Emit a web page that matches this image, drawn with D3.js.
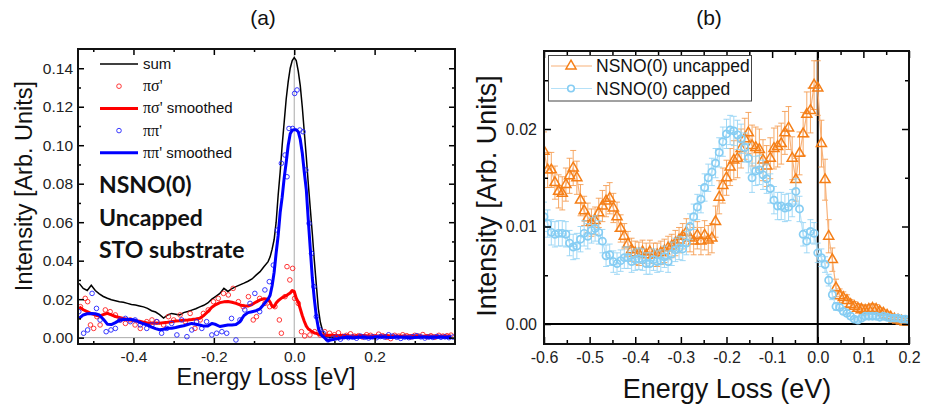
<!DOCTYPE html>
<html>
<head>
<meta charset="utf-8">
<script src="https://cdn.jsdelivr.net/npm/d3@7"></script>
<style>
  body { margin: 0; background: #fff; }
  svg { display: block; }
</style>
</head>
<body>
<div id="chart"></div>
<script>
// ---------- panel (a) : smoothed curves ----------
const aLineE = [-0.535,-0.525,-0.515,-0.505,-0.495,-0.485,-0.475,-0.465,-0.455,-0.445,
  -0.435,-0.425,-0.415,-0.405,-0.395,-0.385,-0.375,-0.365,-0.355,-0.345,
  -0.335,-0.325,-0.315,-0.305,-0.295,-0.285,-0.275,-0.265,-0.255,-0.245,
  -0.235,-0.225,-0.215,-0.205,-0.195,-0.185,-0.175,-0.165,-0.155,-0.145,
  -0.135,-0.125,-0.115,-0.105,-0.095,-0.085,-0.075,-0.065,
  -0.060,-0.055,-0.050,-0.045,-0.040,-0.035,-0.030,-0.025,-0.020,-0.015,-0.010,-0.005,
  0.000,0.005,0.010,0.015,0.020,0.025,0.030,0.035,0.040,0.045,0.050,0.055,0.060,0.065,
  0.070,0.075,0.080,0.085,0.090,
  0.10,0.11,0.12,0.13,0.14,0.15,0.16,0.17,0.18,0.19,0.20,0.21,0.22,0.23,0.24,
  0.25,0.26,0.27,0.28,0.29,0.30,0.31,0.32,0.33,0.34,0.35,0.36,0.37,0.38,0.39];

const aSum = [0.0282,0.0256,0.0245,0.0272,0.0245,0.0228,0.0214,0.0205,0.0197,0.0192,
  0.0187,0.0184,0.0178,0.0172,0.0170,0.0165,0.0160,0.0152,0.0140,0.0133,
  0.0120,0.0102,0.0118,0.0126,0.0122,0.0118,0.0130,0.0136,0.0143,0.0150,
  0.0160,0.0168,0.0180,0.0200,0.0215,0.0230,0.0256,0.0240,0.0255,0.0265,
  0.0274,0.0283,0.0293,0.0305,0.0325,0.0343,0.0370,0.0395,
  0.0420,0.0460,0.0510,0.0600,0.0740,0.0860,0.1000,0.1120,0.1240,0.1330,0.1400,0.1440,
  0.1455,0.1440,0.1385,0.1310,0.1200,0.1070,0.0940,0.0800,0.0670,0.0540,0.0400,0.0275,0.0150,0.0080,
  0.0040,0.0015,0.0005,0.0002,0.0002,
  0.0003,0.0008,0.0006,0.0004,0.0006,0.0005,0.0004,0.0003,0.0006,0.0005,0.0004,0.0003,0.0005,0.0008,0.0006,
  0.0004,0.0003,0.0005,0.0004,0.0003,0.0005,0.0006,0.0004,0.0003,0.0004,0.0005,0.0004,0.0003,0.0004,0.0004];

const aSigSmooth = [0.0160,0.0145,0.0135,0.0125,0.0118,0.0112,0.0120,0.0126,0.0118,0.0110,
  0.0105,0.0100,0.0095,0.0091,0.0088,0.0085,0.0080,0.0076,0.0075,0.0076,
  0.0075,0.0078,0.0080,0.0083,0.0086,0.0088,0.0091,0.0092,0.0094,0.0097,
  0.0101,0.0115,0.0135,0.0158,0.0172,0.0182,0.0186,0.0188,0.0184,0.0178,
  0.0170,0.0165,0.0164,0.0172,0.0185,0.0196,0.0202,0.0200,
  0.0185,0.0162,0.0160,0.0180,0.0192,0.0200,0.0208,0.0213,0.0218,0.0225,0.0232,0.0245,
  0.0240,0.0205,0.0185,0.0150,0.0115,0.0085,0.0060,0.0045,0.0038,0.0030,0.0025,0.0022,0.0018,0.0015,
  0.0014,0.0013,0.0012,0.0012,0.0012,
  0.0011,0.0010,0.0012,0.0011,0.0009,0.0008,0.0010,0.0011,0.0010,0.0009,0.0008,0.0009,0.0010,0.0011,0.0009,
  0.0008,0.0007,0.0008,0.0009,0.0010,0.0009,0.0008,0.0007,0.0008,0.0009,0.0008,0.0007,0.0008,0.0009,0.0008];

const aPiSmooth = [0.0101,0.0118,0.0124,0.0126,0.0124,0.0118,0.0096,0.0070,0.0068,0.0078,
  0.0090,0.0094,0.0096,0.0094,0.0090,0.0080,0.0072,0.0066,0.0055,0.0047,
  0.0041,0.0044,0.0049,0.0049,0.0053,0.0058,0.0062,0.0068,0.0074,0.0070,
  0.0066,0.0060,0.0060,0.0074,0.0068,0.0058,0.0062,0.0066,0.0066,0.0068,
  0.0083,0.0115,0.0130,0.0135,0.0140,0.0150,0.0175,0.0200,
  0.0220,0.0270,0.0340,0.0440,0.0530,0.0650,0.0730,0.0830,0.0910,0.1000,0.1060,0.1078,
  0.1080,0.1080,0.1070,0.1030,0.0960,0.0860,0.0770,0.0610,0.0460,0.0310,0.0200,0.0110,0.0050,0.0022,
  0.0008,0.0000,-0.0010,-0.0015,-0.0012,
  -0.0008,-0.0004,0.0000,0.0002,0.0001,0.0000,0.0002,0.0003,0.0001,0.0000,0.0002,0.0003,0.0004,0.0002,0.0001,
  0.0002,0.0003,0.0002,0.0001,0.0000,0.0001,0.0002,0.0003,0.0002,0.0001,0.0002,0.0003,0.0002,0.0001,0.0002];

// ---------- panel (a) : raw points ----------
const aSigE = [-0.532,-0.520,-0.514,-0.507,-0.499,-0.491,-0.483,-0.470,-0.458,-0.445,
  -0.433,-0.420,-0.408,-0.396,-0.383,-0.367,-0.354,-0.342,-0.325,-0.313,
  -0.300,-0.284,-0.271,-0.259,-0.247,-0.234,-0.226,-0.214,-0.201,-0.189,
  -0.176,-0.164,-0.152,-0.139,-0.127,-0.114,-0.102,-0.094,-0.086,-0.073,
  -0.061,-0.048,-0.037,-0.032,-0.023,-0.018,-0.011,-0.004,0.001,0.010,
  0.018,0.026,0.039,0.051,0.064,0.076,0.088,
  0.10,0.11,0.12,0.13,0.14,0.15,0.16,0.17,0.18,0.19,0.20,0.21,0.22,0.23,0.24,
  0.25,0.26,0.27,0.28,0.29,0.30,0.31,0.32,0.33,0.34,0.35,0.36,0.37,0.38,0.39];
const aSigV = [0.0161,0.0204,0.0187,0.0066,0.0048,0.0109,0.0066,0.0144,0.0135,0.0118,
  0.0092,0.0074,0.0092,0.0066,0.0048,0.0083,0.0092,0.0083,0.0066,0.0109,
  0.0092,0.0118,0.0083,0.0126,0.0048,0.0092,0.0126,0.0144,0.0187,0.0204,
  0.0230,0.0222,0.0256,0.0187,0.0161,0.0213,0.0092,0.0109,0.0204,0.0178,
  0.0161,0.0161,0.0092,0.0023,0.0213,0.0369,0.0300,0.0360,0.0204,0.0178,
  0.0031,0.0009,0.0014,0.0031,0.0014,0.0031,0.0023,
  0.0015,0.0025,0.0005,0.0012,0.0020,0.0008,0.0010,0.0003,0.0015,0.0012,0.0005,0.0018,0.0010,0.0002,-0.0005,
  0.0012,0.0008,0.0015,0.0010,0.0003,0.0012,0.0008,0.0016,0.0005,0.0010,0.0002,0.0012,0.0008,0.0010,0.0013];

const aPiE = [-0.536,-0.524,-0.514,-0.503,-0.492,-0.483,-0.468,-0.456,-0.445,-0.433,
  -0.420,-0.408,-0.396,-0.383,-0.367,-0.354,-0.342,-0.330,-0.317,-0.305,
  -0.292,-0.280,-0.267,-0.255,-0.243,-0.230,-0.218,-0.205,-0.193,-0.180,
  -0.168,-0.156,-0.145,-0.135,-0.123,-0.110,-0.098,-0.086,-0.073,-0.062,
  -0.052,-0.042,-0.032,-0.023,-0.018,-0.013,-0.004,0.001,0.007,0.014,
  0.022,0.029,0.037,0.043,0.049,0.055,0.064,0.072,0.084,0.097,
  0.105,0.115,0.125,0.135,0.145,0.155,0.165,0.175,0.185,0.195,0.205,0.215,0.225,0.235,0.245,
  0.255,0.265,0.275,0.285,0.295,0.305,0.315,0.325,0.335,0.345,0.355,0.365,0.375,0.385,0.395];
const aPiV = [0.0135,0.0023,0.0040,0.0230,0.0152,0.0092,0.0031,0.0040,0.0048,0.0092,
  0.0100,0.0083,0.0092,0.0066,0.0048,0.0066,0.0083,0.0023,0.0048,0.0074,
  0.0014,0.0092,0.0005,0.0040,0.0083,0.0048,0.0083,0.0014,0.0023,0.0031,
  0.0023,0.0100,-0.0012,0.0092,0.0144,0.0178,0.0230,0.0135,0.0248,0.0291,
  0.0377,0.0559,0.0906,0.0949,0.0836,0.1087,0.1087,0.1269,0.1287,0.1079,
  0.1070,0.0871,0.0594,0.0438,0.0265,0.0109,0.0040,0.0023,-0.0012,-0.0003,
  0.0002,-0.0008,0.0005,0.0000,0.0003,-0.0003,0.0008,0.0002,-0.0002,0.0004,0.0000,0.0006,0.0003,0.0015,0.0008,
  0.0002,-0.0004,0.0003,0.0000,0.0005,0.0010,0.0004,-0.0002,0.0003,0.0001,0.0006,0.0002,0.0004,0.0000,0.0003];

// ---------- panel (b) ----------
const bEnergy = [-0.600,-0.592,-0.584,-0.576,-0.568,-0.560,-0.552,-0.544,-0.536,-0.528,
  -0.520,-0.512,-0.504,-0.496,-0.488,-0.480,-0.472,-0.464,-0.456,-0.448,
  -0.440,-0.432,-0.424,-0.416,-0.408,-0.400,-0.392,-0.384,-0.376,-0.368,
  -0.360,-0.352,-0.344,-0.336,-0.328,-0.320,-0.312,-0.304,-0.296,-0.288,
  -0.280,-0.272,-0.264,-0.256,-0.248,-0.240,-0.232,-0.224,-0.216,-0.208,
  -0.200,-0.192,-0.184,-0.176,-0.168,-0.160,-0.152,-0.144,-0.136,-0.128,
  -0.120,-0.112,-0.104,-0.096,-0.088,-0.080,-0.072,-0.064,-0.056,-0.048,
  -0.040,-0.032,-0.024,-0.016,-0.008,0.000,0.008,0.016,0.024,0.032,
  0.040,0.048,0.056,0.064,0.072,0.080,0.088,0.096,0.104,0.112,
  0.120,0.128,0.136,0.144,0.152,0.160,0.168,0.176,0.184,0.192,0.200];

const bUncapped = [0.0177,0.0158,0.0158,0.0145,0.0136,0.0134,0.0143,0.0152,0.0160,0.0150,
  0.0127,0.0116,0.0109,0.0104,0.0106,0.0114,0.0121,0.0126,0.0129,0.0119,
  0.0110,0.0098,0.0090,0.0082,0.0076,0.0073,0.0072,0.0074,0.0071,0.0074,
  0.0071,0.0071,0.0073,0.0075,0.0078,0.0080,0.0083,0.0086,0.0090,0.0094,
  0.0088,0.0085,0.0091,0.0085,0.0091,0.0086,0.0088,0.0105,0.0130,0.0142,
  0.0150,0.0161,0.0168,0.0170,0.0180,0.0190,0.0196,0.0183,0.0181,0.0179,
  0.0168,0.0162,0.0170,0.0180,0.0182,0.0185,0.0196,0.0201,0.0170,0.0148,
  0.0175,0.0195,0.0215,0.0219,0.0245,0.0242,0.0185,0.0148,0.0090,0.0066,
  0.0037,0.0029,0.0027,0.0024,0.0020,0.0018,0.0016,0.0015,0.0014,0.0015,
  0.0016,0.0015,0.0013,0.0011,0.0009,0.0007,0.0005,0.0004,0.0003,0.0002,0.0002];
const bUncappedErr = [0.0020,0.0018,0.0018,0.0017,0.0017,0.0017,0.0017,0.0018,0.0018,0.0017,
  0.0016,0.0015,0.0015,0.0014,0.0014,0.0015,0.0016,0.0016,0.0016,0.0015,
  0.0015,0.0014,0.0013,0.0013,0.0012,0.0012,0.0012,0.0012,0.0012,0.0012,
  0.0012,0.0012,0.0012,0.0012,0.0012,0.0012,0.0013,0.0013,0.0013,0.0014,
  0.0014,0.0014,0.0014,0.0014,0.0015,0.0015,0.0015,0.0016,0.0017,0.0018,
  0.0018,0.0019,0.0020,0.0020,0.0020,0.0021,0.0021,0.0021,0.0021,0.0021,
  0.0021,0.0021,0.0021,0.0021,0.0021,0.0021,0.0022,0.0022,0.0022,0.0022,
  0.0022,0.0022,0.0023,0.0023,0.0025,0.0028,0.0024,0.0021,0.0017,0.0012,
  0.0009,0.0007,0.0006,0.0006,0.0005,0.0005,0.0005,0.0005,0.0005,0.0005,
  0.0005,0.0005,0.0004,0.0004,0.0004,0.0003,0.0003,0.0003,0.0003,0.0002,0.0002];

const bCapped = [0.0110,0.0103,0.0094,0.0092,0.0093,0.0093,0.0092,0.0083,0.0079,0.0080,
  0.0087,0.0093,0.0090,0.0096,0.0098,0.0094,0.0085,0.0070,0.0071,0.0064,
  0.0062,0.0065,0.0068,0.0068,0.0064,0.0066,0.0067,0.0066,0.0062,0.0062,
  0.0066,0.0064,0.0065,0.0069,0.0064,0.0072,0.0076,0.0078,0.0077,0.0083,
  0.0100,0.0110,0.0120,0.0128,0.0140,0.0150,0.0156,0.0165,0.0176,0.0187,
  0.0195,0.0199,0.0198,0.0194,0.0190,0.0181,0.0170,0.0150,0.0157,0.0158,
  0.0153,0.0149,0.0139,0.0127,0.0121,0.0121,0.0119,0.0120,0.0124,0.0136,
  0.0118,0.0092,0.0085,0.0095,0.0093,0.0073,0.0068,0.0061,0.0045,0.0030,
  0.0018,0.0017,0.0013,0.0011,0.0008,0.0005,0.0004,0.0006,0.0008,0.0008,
  0.0008,0.0008,0.0007,0.0008,0.0007,0.0006,0.0006,0.0006,0.0005,0.0005,0.0004];
const bCappedErr = [0.0015,0.0014,0.0013,0.0013,0.0013,0.0013,0.0013,0.0013,0.0013,0.0013,
  0.0013,0.0013,0.0013,0.0013,0.0013,0.0012,0.0012,0.0011,0.0011,0.0011,
  0.0011,0.0011,0.0011,0.0011,0.0011,0.0011,0.0011,0.0011,0.0011,0.0011,
  0.0011,0.0011,0.0011,0.0011,0.0011,0.0012,0.0012,0.0012,0.0012,0.0012,
  0.0013,0.0013,0.0013,0.0014,0.0014,0.0014,0.0014,0.0015,0.0015,0.0015,
  0.0015,0.0015,0.0015,0.0015,0.0015,0.0015,0.0015,0.0015,0.0015,0.0015,
  0.0015,0.0015,0.0015,0.0014,0.0014,0.0014,0.0014,0.0014,0.0014,0.0013,
  0.0013,0.0012,0.0012,0.0012,0.0011,0.0010,0.0009,0.0008,0.0006,0.0005,
  0.0004,0.0003,0.0003,0.0003,0.0003,0.0002,0.0002,0.0002,0.0002,0.0002,
  0.0002,0.0002,0.0002,0.0002,0.0002,0.0002,0.0002,0.0002,0.0002,0.0002,0.0002];

// tick values
const aXMajor = [-0.4, -0.2, 0.0, 0.2];
const aXMinor = [-0.5, -0.3, -0.1, 0.1, 0.3];
const aYMajor = [0, 0.02, 0.04, 0.06, 0.08, 0.10, 0.12, 0.14];
const aYMinor = [0.01, 0.03, 0.05, 0.07, 0.09, 0.11, 0.13];
const bXMajor = [-0.6, -0.5, -0.4, -0.3, -0.2, -0.1, 0.0, 0.1, 0.2];
const bXMinor = [-0.55, -0.45, -0.35, -0.25, -0.15, -0.05, 0.05, 0.15];
const bYMajor = [0, 0.01, 0.02];
const bYMinor = [0.005, 0.015, 0.025];

const sans = '"Liberation Sans", Arial, sans-serif';
const serif = '"Liberation Serif", "Times New Roman", serif';

const svg = d3.select('#chart').append('svg')
  .attr('width', 949).attr('height', 408)
  .style('background', '#fff');

// draw ticks (inward) on all four sides, labels on bottom/left
function drawAxes(g, x, y, cfg) {
  const [xl, xr] = x.range();
  const [yb, yt] = y.range();
  const add = (gen, tx, ty) => g.append('g').attr('transform', `translate(${tx},${ty})`).call(gen);

  add(d3.axisBottom(x).tickValues(cfg.xMajor).tickSize(-cfg.major).tickPadding(cfg.xPad)
    .tickFormat(d => d.toFixed(cfg.xDigits)), 0, yb).attr('class', 'lab');
  add(d3.axisBottom(x).tickValues(cfg.xMinor).tickSize(-cfg.minor).tickFormat(''), 0, yb);
  add(d3.axisTop(x).tickValues(cfg.xMajor).tickSize(-cfg.major).tickFormat(''), 0, yt);
  add(d3.axisTop(x).tickValues(cfg.xMinor).tickSize(-cfg.minor).tickFormat(''), 0, yt);

  add(d3.axisLeft(y).tickValues(cfg.yMajor).tickSize(-cfg.major).tickPadding(cfg.yPad)
    .tickFormat(d => d.toFixed(2)), xl, 0).attr('class', 'lab');
  add(d3.axisLeft(y).tickValues(cfg.yMinor).tickSize(-cfg.minor).tickFormat(''), xl, 0);
  add(d3.axisRight(y).tickValues(cfg.yMajor).tickSize(-cfg.major).tickFormat(''), xr, 0);
  add(d3.axisRight(y).tickValues(cfg.yMinor).tickSize(-cfg.minor).tickFormat(''), xr, 0);

  g.selectAll('.domain').remove();
  g.selectAll('.tick line').attr('stroke', '#000').attr('stroke-width', 1.5);
  g.selectAll('.lab .tick text')
    .style('font-family', sans).style('font-size', cfg.fontSize + 'px').attr('fill', '#222');
}

// ================= panel (a) =================
const xa = d3.scaleLinear().domain([-0.538, 0.4]).range([78, 455]);
const ya = d3.scaleLinear().domain([-0.0033, 0.15]).range([344, 49]);
const ga = svg.append('g');

ga.append('clipPath').attr('id', 'clipA').append('rect')
  .attr('x', 78).attr('y', 49).attr('width', 377).attr('height', 295);
const pa = ga.append('g').attr('clip-path', 'url(#clipA)');

// zero guides
pa.append('line').attr('x1', xa(0)).attr('x2', xa(0)).attr('y1', 49).attr('y2', 344)
  .attr('stroke', '#aaa').attr('stroke-width', 1);
pa.append('line').attr('x1', 78).attr('x2', 455).attr('y1', ya(0)).attr('y2', ya(0))
  .attr('stroke', '#aaa').attr('stroke-width', 1);

const lineA = ys => d3.line().x((d, i) => xa(aLineE[i])).y(d => ya(d))(ys);

pa.append('path').attr('d', lineA(aSum)).attr('fill', 'none')
  .attr('stroke', '#000').attr('stroke-width', 1.5);

pa.selectAll('circle.sig').data(aSigV).enter().append('circle')
  .attr('class', 'sig')
  .attr('cx', (d, i) => xa(aSigE[i])).attr('cy', d => ya(d)).attr('r', 2.3)
  .attr('fill', 'none').attr('stroke', '#f22').attr('stroke-width', 0.9);
pa.append('path').attr('d', lineA(aSigSmooth)).attr('fill', 'none')
  .attr('stroke', '#ff0000').attr('stroke-width', 3).attr('stroke-linejoin', 'round');

pa.selectAll('circle.pi').data(aPiV).enter().append('circle')
  .attr('class', 'pi')
  .attr('cx', (d, i) => xa(aPiE[i])).attr('cy', d => ya(d)).attr('r', 2.3)
  .attr('fill', 'none').attr('stroke', '#22f').attr('stroke-width', 0.9);
pa.append('path').attr('d', lineA(aPiSmooth)).attr('fill', 'none')
  .attr('stroke', '#0000ff').attr('stroke-width', 3).attr('stroke-linejoin', 'round');

drawAxes(ga, xa, ya, {
  xMajor: aXMajor, xMinor: aXMinor, yMajor: aYMajor, yMinor: aYMinor,
  major: 6, minor: 3, xPad: 7, yPad: 5, xDigits: 1, fontSize: 15.5
});

ga.append('rect').attr('x', 78).attr('y', 49).attr('width', 377).attr('height', 295)
  .attr('fill', 'none').attr('stroke', '#111').attr('stroke-width', 2);

// legend (a)
const legA = ga.append('g').style('font-family', sans).style('font-size', '15px');
const legRows = [
  { kind: 'line', color: '#000', w: 1.5, pre: '', post: 'sum' },
  { kind: 'dot', color: '#f22', pre: 'πσ\'', post: '' },
  { kind: 'line', color: '#ff0000', w: 3, pre: 'πσ\'', post: ' smoothed' },
  { kind: 'dot', color: '#22f', pre: 'ππ\'', post: '' },
  { kind: 'line', color: '#0000ff', w: 3, pre: 'ππ\'', post: ' smoothed' }
];
legRows.forEach((r, i) => {
  const yy = 64 + i * 22.2;
  if (r.kind === 'line') {
    legA.append('line').attr('x1', 100).attr('x2', 138).attr('y1', yy).attr('y2', yy)
      .attr('stroke', r.color).attr('stroke-width', r.w);
  } else {
    legA.append('circle').attr('cx', 119).attr('cy', yy).attr('r', 2.3)
      .attr('fill', 'none').attr('stroke', r.color).attr('stroke-width', 0.9);
  }
  const t = legA.append('text').attr('x', 143).attr('y', yy + 5).attr('fill', '#111');
  if (r.pre) t.append('tspan').style('font-family', serif).style('font-size', '16px').text(r.pre);
  if (r.post) t.append('tspan').text(r.post);
});

// annotation
const note = ['NSNO(0)', 'Uncapped', 'STO substrate'];
ga.selectAll('text.note').data(note).enter().append('text')
  .attr('class', 'note')
  .attr('x', 99).attr('y', (d, i) => 193 + i * 32.5)
  .style('font-family', 'Lato, "Open Sans", sans-serif').style('font-weight', 'bold')
  .style('font-size', '23px').attr('fill', '#111')
  .text(d => d);

ga.append('text').attr('x', 266).attr('y', 385).attr('text-anchor', 'middle')
  .style('font-family', sans).style('font-size', '23.5px').attr('fill', '#111')
  .text('Energy Loss [eV]');
ga.append('text').attr('transform', 'translate(32,186) rotate(-90)').attr('text-anchor', 'middle')
  .style('font-family', sans).style('font-size', '23.5px').attr('fill', '#111')
  .text('Intensity [Arb. Units]');
ga.append('text').attr('x', 263).attr('y', 25).attr('text-anchor', 'middle')
  .style('font-family', sans).style('font-size', '21px').attr('fill', '#111').text('(a)');

// ================= panel (b) =================
const xb = d3.scaleLinear().domain([-0.6, 0.2]).range([544, 909]);
const yb = d3.scaleLinear().domain([-0.00205, 0.028]).range([344, 51]);
const gb = svg.append('g');

gb.append('clipPath').attr('id', 'clipB').append('rect')
  .attr('x', 544).attr('y', 51).attr('width', 365).attr('height', 293);
const pb = gb.append('g').attr('clip-path', 'url(#clipB)');

pb.append('line').attr('x1', xb(0)).attr('x2', xb(0)).attr('y1', 51).attr('y2', 344)
  .attr('stroke', '#000').attr('stroke-width', 2);
pb.append('line').attr('x1', 544).attr('x2', 909).attr('y1', yb(0)).attr('y2', yb(0))
  .attr('stroke', '#000').attr('stroke-width', 2);

const seriesB = [
  { vals: bUncapped, err: bUncappedErr, mark: '#f57f17', lineC: '#f8b27a', errC: '#f59a4c', sym: 'tri' },
  { vals: bCapped, err: bCappedErr, mark: '#86cdf3', lineC: '#b5e1f8', errC: '#92d3f5', sym: 'circ' }
];
const triangle = d3.symbol().type(d3.symbolTriangle).size(44);

seriesB.forEach(s => {
  const gs = pb.append('g');
  // error bars
  const eb = gs.selectAll('g.eb').data(s.vals).enter().append('g').attr('class', 'eb');
  eb.append('line')
    .attr('x1', (d, i) => xb(bEnergy[i])).attr('x2', (d, i) => xb(bEnergy[i]))
    .attr('y1', (d, i) => yb(d - s.err[i])).attr('y2', (d, i) => yb(d + s.err[i]))
    .attr('stroke', s.errC).attr('stroke-width', 1).attr('opacity', 0.85);
  [-1, 1].forEach(sign => {
    eb.append('line')
      .attr('x1', (d, i) => xb(bEnergy[i]) - 3).attr('x2', (d, i) => xb(bEnergy[i]) + 3)
      .attr('y1', (d, i) => yb(d + sign * s.err[i])).attr('y2', (d, i) => yb(d + sign * s.err[i]))
      .attr('stroke', s.errC).attr('stroke-width', 1).attr('opacity', 0.85);
  });
  // connecting line
  gs.append('path')
    .attr('d', d3.line().x((d, i) => xb(bEnergy[i])).y(d => yb(d))(s.vals))
    .attr('fill', 'none').attr('stroke', s.lineC).attr('stroke-width', 1.2);
  // markers
  if (s.sym === 'tri') {
    gs.selectAll('path.m').data(s.vals).enter().append('path').attr('class', 'm')
      .attr('d', triangle)
      .attr('transform', (d, i) => `translate(${xb(bEnergy[i])},${yb(d)})`)
      .attr('fill', 'none').attr('stroke', s.mark).attr('stroke-width', 1.5);
  } else {
    gs.selectAll('circle.m').data(s.vals).enter().append('circle').attr('class', 'm')
      .attr('cx', (d, i) => xb(bEnergy[i])).attr('cy', d => yb(d)).attr('r', 3.6)
      .attr('fill', 'none').attr('stroke', s.mark).attr('stroke-width', 1.7);
  }
});

drawAxes(gb, xb, yb, {
  xMajor: bXMajor, xMinor: bXMinor, yMajor: bYMajor, yMinor: bYMinor,
  major: 7, minor: 4, xPad: 7.5, yPad: 7, xDigits: 1, fontSize: 16
});

gb.append('rect').attr('x', 544).attr('y', 51).attr('width', 365).attr('height', 293)
  .attr('fill', 'none').attr('stroke', '#111').attr('stroke-width', 2);

// legend (b)
const legB = gb.append('g').style('font-family', sans).style('font-size', '17.5px');
legB.append('rect').attr('x', 548.5).attr('y', 55.5).attr('width', 203).attr('height', 45.5)
  .attr('fill', '#fff').attr('stroke', '#444').attr('stroke-width', 1);
const legBNames = ['NSNO(0) uncapped', 'NSNO(0) capped'];
seriesB.forEach((s, i) => {
  const yy = 66 + i * 22.5;
  legB.append('line').attr('x1', 551).attr('x2', 592).attr('y1', yy).attr('y2', yy)
    .attr('stroke', s.lineC).attr('stroke-width', 1.2);
  if (s.sym === 'tri') {
    legB.append('path').attr('d', triangle).attr('transform', `translate(571,${yy})`)
      .attr('fill', '#fff').attr('stroke', s.mark).attr('stroke-width', 1.5);
  } else {
    legB.append('circle').attr('cx', 571).attr('cy', yy).attr('r', 3.3)
      .attr('fill', '#fff').attr('stroke', s.mark).attr('stroke-width', 1.6);
  }
  legB.append('text').attr('x', 596).attr('y', yy + 6).attr('fill', '#111').text(legBNames[i]);
});

gb.append('text').attr('x', 727).attr('y', 398).attr('text-anchor', 'middle')
  .style('font-family', sans).style('font-size', '27px').attr('fill', '#111')
  .text('Energy Loss (eV)');
gb.append('text').attr('transform', 'translate(496,196) rotate(-90)').attr('text-anchor', 'middle')
  .style('font-family', sans).style('font-size', '27px').attr('fill', '#111')
  .text('Intensity [Arb. Units]');
gb.append('text').attr('x', 709).attr('y', 25).attr('text-anchor', 'middle')
  .style('font-family', sans).style('font-size', '21px').attr('fill', '#111').text('(b)');
</script>
</body>
</html>
